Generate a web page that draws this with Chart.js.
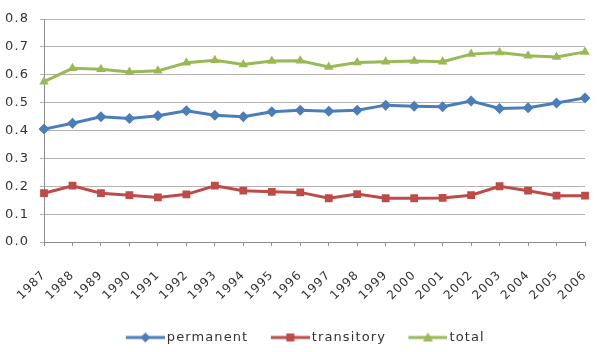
<!DOCTYPE html>
<html>
<head>
<meta charset="utf-8">
<script src="https://cdn.jsdelivr.net/npm/chart.js@4"></script>
<style>
  html, body { margin: 0; padding: 0; background: #fff; }
  #wrap { width: 600px; height: 352px; }
</style>
</head>
<body>
<div id="wrap"><canvas id="chart"></canvas></div>
<script>
const years = ['1987','1988','1989','1990','1991','1992','1993','1994','1995','1996',
               '1997','1998','1999','2000','2001','2002','2003','2004','2005','2006'];
const permanent = [0.405, 0.426, 0.449, 0.443, 0.453, 0.471, 0.455, 0.449, 0.467, 0.473,
                   0.469, 0.473, 0.491, 0.487, 0.485, 0.506, 0.479, 0.482, 0.499, 0.517];
const transitory = [0.175, 0.202, 0.175, 0.168, 0.160, 0.171, 0.202, 0.184, 0.180, 0.178,
                    0.157, 0.172, 0.157, 0.157, 0.158, 0.168, 0.200, 0.184, 0.166, 0.166];
const total = [0.575, 0.623, 0.620, 0.610, 0.614, 0.643, 0.652, 0.637, 0.649, 0.650,
               0.628, 0.644, 0.647, 0.649, 0.647, 0.674, 0.680, 0.668, 0.664, 0.682];

const blue = '#4a7ebb', red = '#be4b48', green = '#98b954';

// line+marker swatch for the legend, visible part sits at the right of the canvas
function swatch(color, style) {
    const c = document.createElement('canvas');
    c.width = 54; c.height = 12;
    const g = c.getContext('2d');
    const x0 = 15, mid = x0 + 19.5;
    g.strokeStyle = color; g.lineWidth = 3;
    g.beginPath(); g.moveTo(x0, 6); g.lineTo(54, 6); g.stroke();
    g.fillStyle = color;
    g.beginPath();
    if (style === 'rectRot') { g.moveTo(mid, 1); g.lineTo(mid + 5, 6); g.lineTo(mid, 11); g.lineTo(mid - 5, 6); }
    else if (style === 'rect') { g.rect(mid - 4, 2, 8, 8); }
    else { g.moveTo(mid, 1); g.lineTo(mid + 5, 10); g.lineTo(mid - 5, 10); }
    g.closePath(); g.fill();
    return c;
}

function series(label, data, color, style, radius) {
    return {
        label, data,
        borderColor: color,
        backgroundColor: color,
        borderWidth: 3,
        pointStyle: style,
        pointRadius: radius,
        pointHoverRadius: radius,
        pointBorderWidth: 0,
        pointBackgroundColor: color,
        tension: 0,
        legendSwatch: swatch(color, style)
    };
}

// reference text is a bit letter-spaced
const spacing = {
    id: 'spacing',
    beforeInit: c => { c.ctx.letterSpacing = '1.1px'; },
    beforeLayout: c => { c.ctx.letterSpacing = '1.1px'; },
    beforeDraw: c => { c.ctx.letterSpacing = '1.1px'; }
};

new Chart(document.getElementById('chart'), {
    type: 'line',
    plugins: [spacing],
    data: {
        labels: years,
        datasets: [
            series('permanent', permanent, blue, 'rectRot', 5.5),
            series('transitory', transitory, red, 'rect', 5.5),
            series('total', total, green, 'triangle', 5.5)
        ]
    },
    options: {
        responsive: true,
        maintainAspectRatio: false,
        animation: false,
        layout: { padding: { top: 19, right: 0, left: 0, bottom: -2 } },
        plugins: {
            tooltip: { enabled: false },
            legend: {
                position: 'bottom',
                labels: {
                    usePointStyle: true,
                    pointStyleWidth: 45,
                    padding: 12,
                    color: '#333',
                    font: { family: 'DejaVu Sans', size: 13 },
                    generateLabels: chart => chart.data.datasets.map((ds, i) => ({
                        text: ds.label,
                        pointStyle: ds.legendSwatch,
                        fillStyle: ds.borderColor,
                        strokeStyle: ds.borderColor,
                        lineWidth: 0,
                        fontColor: '#333',
                        datasetIndex: i
                    }))
                }
            }
        },
        scales: {
            x: {
                offset: false,
                afterFit: s => { s.height = 77; s.paddingLeft = 0; s.paddingRight = 15; },
                grid: { drawOnChartArea: false, drawTicks: true, tickLength: 4, color: '#8c8c8c' },
                border: { color: '#8c8c8c', width: 1 },
                ticks: {
                    maxRotation: 45, minRotation: 45, autoSkip: false, padding: 22,
                    color: '#333', font: { family: 'DejaVu Sans', size: 12 }
                }
            },
            y: {
                min: 0, max: 0.8,
                afterFit: s => { s.width = 44; },
                grid: { color: '#b3b3b3', tickLength: 4 },
                border: { color: '#8c8c8c', width: 1 },
                ticks: {
                    stepSize: 0.1, padding: 11,
                    color: '#333', font: { family: 'DejaVu Sans', size: 13 },
                    callback: v => v.toFixed(1)
                }
            }
        }
    }
});
</script>
</body>
</html>
